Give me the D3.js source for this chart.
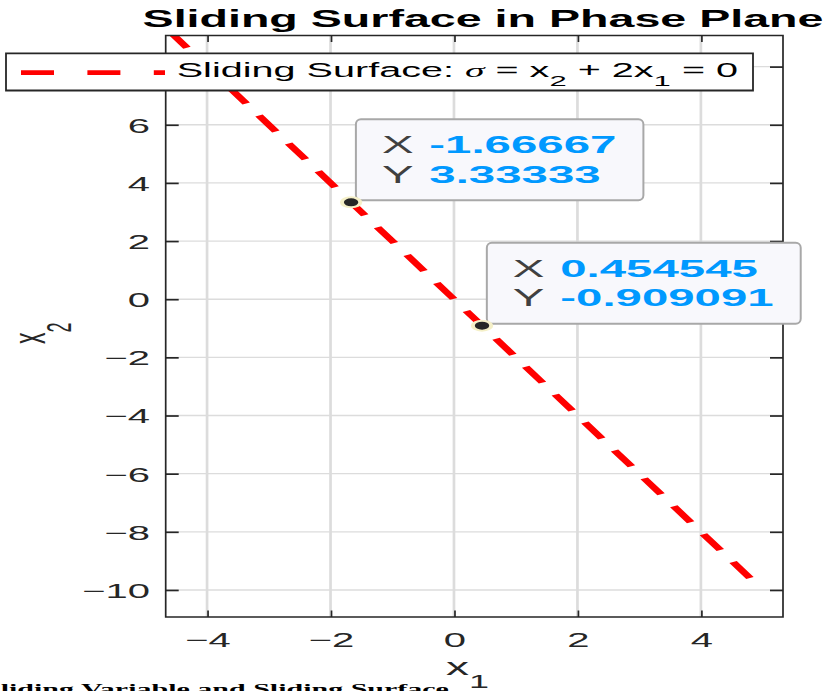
<!DOCTYPE html>
<html>
<head>
<meta charset="utf-8">
<script src="https://cdn.jsdelivr.net/npm/d3@7"></script>
<style>
  html, body { margin: 0; padding: 0; background: #ffffff; }
  svg { display: block; }
</style>
</head>
<body>
<svg id="chart" width="824" height="691"></svg>
<script>
// Sliding surface sigma = x2 + 2*x1 = 0, i.e. x2 = -2*x1
const surfaceX1 = [-5, 5];
const surfaceX2 = [10, -10];

// data tips placed on the surface
const tipX1 = [-1.66667, 0.454545];
const tipX2 = [3.33333, -0.909091];

// axis limits and ticks
const xLimits = [-4.67, 5.33];
const yLimits = [-10.93, 9.07];
const xTicks = [-4, -2, 0, 2, 4];
const yTicks = [-10, -8, -6, -4, -2, 0, 2, 4, 6, 8];

const titleText = "Sliding Surface in Phase Plane";
const captionText = "Sliding Variable and Sliding Surface";

const SANS = "'Liberation Sans', Arial, Helvetica, sans-serif";
const SERIF = "'Liberation Serif', 'Times New Roman', serif";
const AXIS_COLOR = "#262626";

const svg = d3.select("#chart");
// the figure is laid out at half width and stretched horizontally onto the page
const root = svg.append("g").attr("transform", "scale(2,1)");

const plot = { left: 82.85, right: 391.5, top: 35.5, bottom: 617 };

const x = d3.scaleLinear().domain(xLimits).range([plot.left, plot.right]);
const y = d3.scaleLinear().domain(yLimits).range([plot.bottom, plot.top]);

// clip region of the axes
root.append("clipPath").attr("id", "plot-clip")
  .append("rect")
  .attr("x", plot.left).attr("y", plot.top)
  .attr("width", plot.right - plot.left).attr("height", plot.bottom - plot.top);

// grid
const grid = root.append("g").attr("class", "grid");
grid.selectAll("line.vx").data(xTicks).join("line")
  .attr("x1", d => x(d)).attr("x2", d => x(d))
  .attr("y1", plot.top).attr("y2", plot.bottom)
  .attr("stroke", "#dcdcdc").attr("stroke-width", 1.35);
grid.selectAll("line.hy").data(yTicks).join("line")
  .attr("x1", plot.left).attr("x2", plot.right)
  .attr("y1", d => y(d)).attr("y2", d => y(d))
  .attr("stroke", "#dcdcdc").attr("stroke-width", 1.35);

// sliding surface line
const surface = surfaceX1.map((v, i) => [v, surfaceX2[i]]);
root.append("path")
  .datum(surface)
  .attr("clip-path", "url(#plot-clip)")
  .attr("d", d3.line().x(d => x(d[0])).y(d => y(d[1])))
  .attr("fill", "none")
  .attr("stroke", "#ff0000")
  .attr("stroke-width", 4.2)
  .attr("stroke-dasharray", "18,13.6")
  .attr("stroke-dashoffset", 5.2);

// axes
function styleAxis(g) {
  g.select(".domain").remove();
  g.selectAll(".tick line")
    .attr("stroke", AXIS_COLOR)
    .attr("stroke-width", 1.7)
    .attr("vector-effect", "non-scaling-stroke");
  g.selectAll(".tick text")
    .attr("fill", AXIS_COLOR)
    .attr("font-family", SANS)
    .attr("font-size", 20);
}

const fmtTick = d3.format("");

root.append("g")
  .attr("transform", `translate(0,${plot.bottom})`)
  .call(d3.axisBottom(x).tickValues(xTicks).tickFormat(fmtTick).tickSizeInner(-6.5).tickSizeOuter(0))
  .call(styleAxis)
  .call(g => g.selectAll(".tick text").attr("y", 30).attr("dy", null));

root.append("g")
  .attr("transform", `translate(0,${plot.top})`)
  .call(d3.axisTop(x).tickValues(xTicks).tickFormat(() => "").tickSizeInner(-6.5).tickSizeOuter(0))
  .call(styleAxis);

root.append("g")
  .attr("transform", `translate(${plot.left},0)`)
  .call(d3.axisLeft(y).tickValues(yTicks).tickFormat(fmtTick).tickSizeInner(-6.5).tickSizeOuter(0))
  .call(styleAxis)
  .call(g => g.selectAll(".tick text").attr("x", -7.85).attr("dy", "0.37em"));

root.append("g")
  .attr("transform", `translate(${plot.right},0)`)
  .call(d3.axisRight(y).tickValues(yTicks).tickFormat(() => "").tickSizeInner(-6.5).tickSizeOuter(0))
  .call(styleAxis);

// axes box
root.append("rect")
  .attr("x", plot.left).attr("y", plot.top)
  .attr("width", plot.right - plot.left).attr("height", plot.bottom - plot.top)
  .attr("fill", "none")
  .attr("stroke", AXIS_COLOR)
  .attr("stroke-width", 1.7)
  .attr("vector-effect", "non-scaling-stroke");

// axis labels
const xLabel = root.append("text")
  .attr("x", 223).attr("y", 675)
  .attr("font-family", SANS).attr("font-size", 23).attr("fill", AXIS_COLOR);
xLabel.append("tspan").text("x");
xLabel.append("tspan").attr("font-size", 18).attr("dy", 13).text("1");

const yLabel = root.append("text")
  .attr("transform", "translate(22.5,344) rotate(-90)")
  .attr("font-family", SANS).attr("font-size", 23).attr("fill", AXIS_COLOR);
yLabel.append("tspan").text("x");
yLabel.append("tspan").attr("font-size", 18).attr("dy", 13).text("2");

// title
root.append("text")
  .attr("x", 241.5).attr("y", 27)
  .attr("text-anchor", "middle")
  .attr("font-family", SANS).attr("font-size", 23.3).attr("font-weight", "bold")
  .attr("fill", "#000")
  .text(titleText);

// legend
const legend = root.append("g");
legend.append("rect")
  .attr("x", 3).attr("y", 53.3).attr("width", 373.5).attr("height", 37.2)
  .attr("fill", "#ffffff")
  .attr("stroke", AXIS_COLOR).attr("stroke-width", 1.8)
  .attr("vector-effect", "non-scaling-stroke");
legend.append("line")
  .attr("x1", 10.5).attr("x2", 82.5).attr("y1", 72.7).attr("y2", 72.7)
  .attr("stroke", "#ff0000").attr("stroke-width", 4.7)
  .attr("stroke-dasharray", "16.5,16.7");
const legendText = legend.append("text")
  .attr("x", 88.35).attr("y", 76.7)
  .attr("font-family", SANS).attr("font-size", 19.8).attr("fill", "#000");
legendText.append("tspan").text("Sliding Surface: ");
legendText.append("tspan").attr("font-family", SERIF).attr("font-style", "italic").text("\u03C3");
legendText.append("tspan").text(" = x");
legendText.append("tspan").attr("font-size", 15.5).attr("dy", 9).text("2");
legendText.append("tspan").attr("dy", -9).text(" + 2x");
legendText.append("tspan").attr("font-size", 15.5).attr("dy", 9).text("1");
legendText.append("tspan").attr("dy", -9).text(" = 0");

// data tips
const fmtTip = d3.formatLocale({
  decimal: ".", thousands: ",", grouping: [3], currency: ["", ""], minus: "-"
}).format(".6~g");

const tips = tipX1.map((v, i) => ({ x1: v, x2: tipX2[i] }));
const tipH = 81;
tips.forEach(t => {
  const mx = x(t.x1), my = y(t.x2);
  const g = root.append("g");
  const box = g.append("rect")
    .attr("rx", 2.5).attr("ry", 5)
    .attr("fill", "#f8f8fc")
    .attr("stroke", "#a8a8a8").attr("stroke-width", 2)
    .attr("vector-effect", "non-scaling-stroke");
  const bx = mx + 2.4;
  const by = my - 2 - tipH;
  const rows = [["X", t.x1], ["Y", t.x2]];
  let maxW = 0;
  rows.forEach((r, k) => {
    const base = by + (k === 0 ? 34 : 63.7);
    g.append("text")
      .attr("x", bx + 13).attr("y", base)
      .attr("font-family", SANS).attr("font-size", 23.7)
      .attr("fill", "#404040")
      .text(r[0]);
    const vt = g.append("text")
      .attr("x", bx + 36.7).attr("y", base)
      .attr("font-family", SANS).attr("font-size", 23.7).attr("font-weight", "bold")
      .attr("fill", "#0099ff")
      .text(fmtTip(r[1]));
    maxW = Math.max(maxW, vt.node().getComputedTextLength());
  });
  box.attr("x", bx).attr("y", by).attr("width", 36.7 + maxW + 13.5).attr("height", tipH);
  g.append("ellipse")
    .attr("cx", mx).attr("cy", my).attr("rx", 4.6).attr("ry", 5)
    .attr("fill", "#262626")
    .attr("stroke", "#f5f0c8").attr("stroke-width", 2);
});

// caption below the figure
root.append("text")
  .attr("x", -8).attr("y", 694.5)
  .attr("font-family", SERIF).attr("font-size", 15).attr("font-weight", "bold")
  .attr("fill", "#000")
  .text(captionText);
</script>
</body>
</html>
